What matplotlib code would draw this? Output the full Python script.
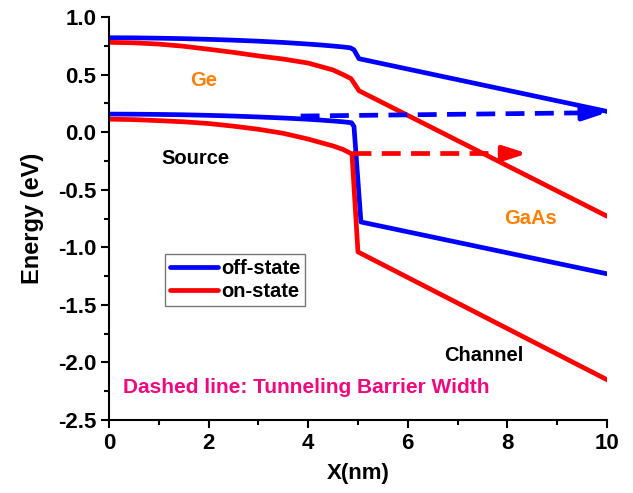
import matplotlib
matplotlib.use("Agg")
import matplotlib.pyplot as plt
from matplotlib.ticker import MultipleLocator

plt.rcParams['font.family'] = ['Liberation Sans', 'DejaVu Sans']
plt.rcParams['font.weight'] = 'bold'

# Off-state conduction band
off_cb_x = [0, 0.5, 1, 1.5, 2, 2.5, 3, 3.5, 4, 4.25, 4.5, 4.7, 4.85, 4.92, 5.02, 10]
off_cb_y = [0.82, 0.819, 0.816, 0.812, 0.806, 0.799, 0.79, 0.779, 0.765, 0.757, 0.748, 0.74, 0.732, 0.715, 0.638, 0.18]
# Off-state valence band
off_vb_x = [0, 0.5, 1, 1.5, 2, 2.5, 3, 3.5, 4, 4.25, 4.5, 4.7, 4.87, 4.92, 5.06, 10]
off_vb_y = [0.157, 0.156, 0.154, 0.151, 0.146, 0.14, 0.132, 0.123, 0.112, 0.105, 0.097, 0.09, 0.082, 0.05, -0.78, -1.23]
# On-state conduction band
on_cb_x = [0, 0.5, 1, 1.5, 2, 2.5, 3, 3.5, 4, 4.25, 4.5, 4.7, 4.86, 4.93, 5.02, 10]
on_cb_y = [0.78, 0.776, 0.765, 0.746, 0.72, 0.693, 0.662, 0.635, 0.60, 0.57, 0.54, 0.50, 0.465, 0.42, 0.36, -0.73]
# On-state valence band
on_vb_x = [0, 0.5, 1, 1.5, 2, 2.5, 3, 3.5, 4, 4.25, 4.5, 4.7, 4.88, 5.0, 10]
on_vb_y = [0.113, 0.109, 0.10, 0.09, 0.075, 0.052, 0.025, -0.01, -0.06, -0.09, -0.12, -0.15, -0.19, -1.04, -2.15]

# Tunneling barrier width arrows (start x, end x, start y, end y)
off_arrow_x = [3.85, 10.0]
off_arrow_y = [0.14, 0.17]
on_arrow_x = [4.88, 8.4]
on_arrow_y = [-0.185, -0.185]

x_ticks = [0, 2, 4, 6, 8, 10]
y_ticks = [-2.5, -2.0, -1.5, -1.0, -0.5, 0.0, 0.5, 1.0]

BLUE = '#0000FF'
RED = '#FF0000'

fig = plt.figure(figsize=(6.33, 4.93), dpi=100)
ax = fig.add_axes([0.172, 0.148, 0.787, 0.8175])

lw = 3.4
ax.plot(off_cb_x, off_cb_y, color=BLUE, lw=lw, label='off-state', solid_joinstyle='round', solid_capstyle='round')
ax.plot(on_cb_x, on_cb_y, color=RED, lw=lw, label='on-state', solid_joinstyle='round', solid_capstyle='round')
ax.plot(off_vb_x, off_vb_y, color=BLUE, lw=lw, solid_joinstyle='round', solid_capstyle='round')
ax.plot(on_vb_x, on_vb_y, color=RED, lw=lw, solid_joinstyle='round', solid_capstyle='round')


def dashed_arrow(xs, ys, color):
    head = 0.5
    frac = head / (xs[1] - xs[0])
    xb = xs[1] - (xs[1] - xs[0]) * frac
    yb = ys[1] - (ys[1] - ys[0]) * frac
    ax.plot([xs[0], xb], [ys[0], yb], color=color, lw=lw, dashes=(4.0, 2.2))
    ax.annotate('', xy=(xs[1], ys[1]), xytext=(xb, yb),
                arrowprops=dict(arrowstyle='-|>,head_length=1.4,head_width=0.45',
                                color=color, lw=lw, shrinkA=0, shrinkB=0))

dashed_arrow(off_arrow_x, off_arrow_y, BLUE)
dashed_arrow(on_arrow_x, on_arrow_y, RED)

ax.set_xlim(0, 10)
ax.set_ylim(-2.5, 1.0)
ax.set_xticks(x_ticks)
ax.set_yticks(y_ticks)
ax.set_yticklabels([f'{v:.1f}' for v in y_ticks])
ax.xaxis.set_minor_locator(MultipleLocator(1))
ax.yaxis.set_minor_locator(MultipleLocator(0.25))
ax.tick_params(which='major', direction='out', length=6, width=1.5, labelsize=16, pad=3)
ax.tick_params(which='minor', direction='out', length=3.5, width=1.5)
for s in ['top', 'right']:
    ax.spines[s].set_visible(False)
for s in ['left', 'bottom']:
    ax.spines[s].set_linewidth(1.5)

ax.set_xlabel('X(nm)', fontsize=16, fontweight='bold', labelpad=7)
ax.set_ylabel('Energy (eV)', fontsize=17, fontweight='bold', labelpad=10)

ax.text(1.91, 0.45, 'Ge', color='#FF8000', fontsize=14.5, ha='center', va='center')
ax.text(1.73, -0.226, 'Source', color='black', fontsize=14.5, ha='center', va='center')
ax.text(8.47, -0.75, 'GaAs', color='#FF8000', fontsize=14.5, ha='center', va='center')
ax.text(7.53, -1.94, 'Channel', color='black', fontsize=14.5, ha='center', va='center')
ax.text(0.28, -2.22, 'Dashed line: Tunneling Barrier Width', color='#F0087F',
        fontsize=15, ha='left', va='center')

leg = ax.legend(loc='upper left', bbox_to_anchor=(0.112, 0.412), fontsize=14.5,
                frameon=True, fancybox=False, handlelength=2.4, handletextpad=0.15,
                borderpad=0.25, labelspacing=0.2, borderaxespad=0)
leg.get_frame().set_edgecolor('#555555')
leg.get_frame().set_linewidth(1.0)

fig.savefig('out.png', dpi=100)
